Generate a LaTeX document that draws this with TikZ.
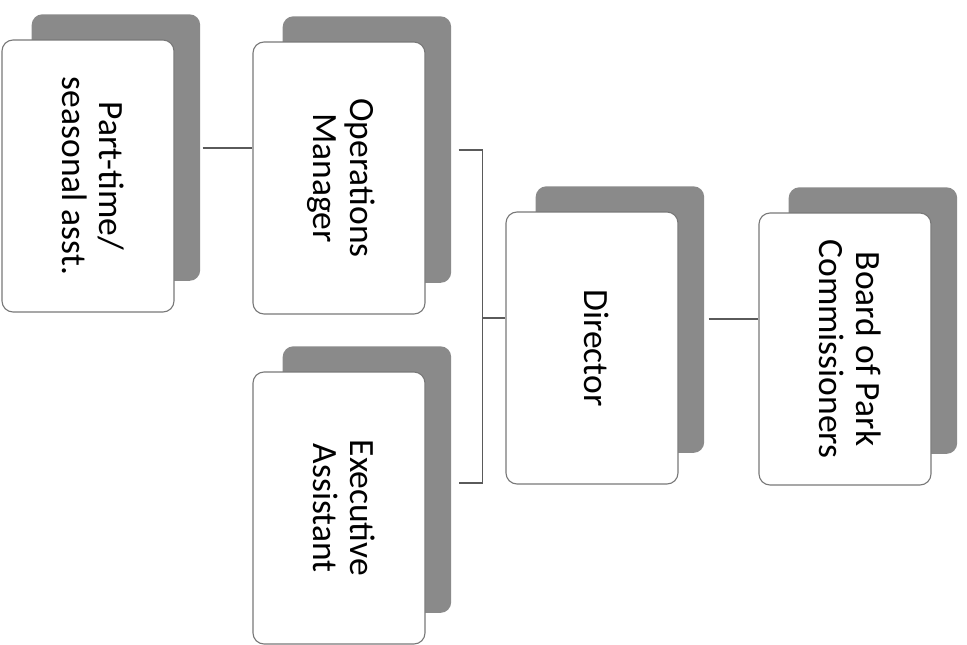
\documentclass[tikz,border=0pt]{standalone}
\usepackage{fontspec}
\setmainfont{Carlito}
\usepackage{graphicx}
\usetikzlibrary{shadows,calc}
\definecolor{shadowgray}{RGB}{138,138,138}
\definecolor{edgegray}{RGB}{120,120,120}
\definecolor{linegray}{RGB}{90,90,90}
\tikzset{
  orgbox/.style={draw=edgegray, line width=1.1pt, fill=white, rounded corners=11pt,
    minimum width=172pt, minimum height=272pt, inner sep=0pt,
    font=\fontsize{35.5}{37}\selectfont,
    copy shadow={shadow xshift=28.5pt, shadow yshift=29pt, shadow scale=0.98, fill=shadowgray, draw=none}},
  conn/.style={draw=linegray, line width=1.3pt}
}
\newcommand{\rt}[1]{\rotatebox[origin=c]{-90}{\begin{tabular}{@{}c@{}}#1\end{tabular}}}
\begin{document}
\begin{tikzpicture}[x=1pt,y=-1pt]
\useasboundingbox (0,0) rectangle (967,645);
\node[orgbox] (pt) at (88,176) {\rt{Part-time/\\seasonal asst.}};
\node[orgbox] (ops) at (339,178) {\rt{Operations\\Manager}};
\node[orgbox] (exec) at (339,508) {\rt{Executive\\Assistant}};
\node[orgbox] (dir) at (592,348) {\rt{Director}};
\node[orgbox] (board) at (845,349) {\rt{Board of Park\\Commissioners}};
% connectors
\coordinate (a) at ($(pt.east)+(28,-28)$);
\draw[conn] (a) -- (a -| ops.west);
\coordinate (b1) at ($(ops.east)+(33,-28)$);
\coordinate (b2) at ($(exec.east)+(33,-25)$);
\draw[conn] (b1) -- ++(24,0) coordinate (bx) |- (b2);
\coordinate (dm) at ($(dir.west)+(0,-30)$);
\draw[conn] (bx |- dm) -- (dm);
\coordinate (c) at ($(dir.east)+(30,-29)$);
\draw[conn] (c) -- (c -| board.west);
\end{tikzpicture}
\end{document}
